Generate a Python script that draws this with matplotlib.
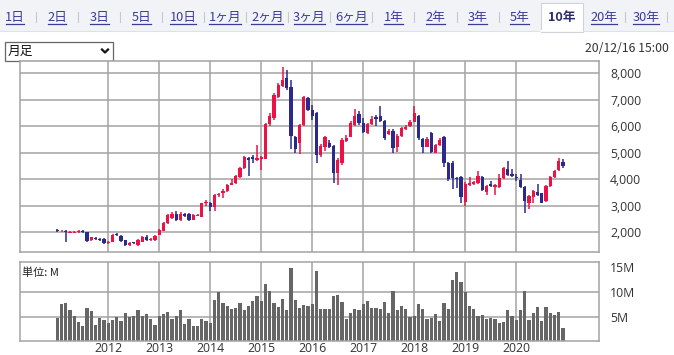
import numpy as np
import matplotlib
matplotlib.use("Agg")
import matplotlib.pyplot as plt
from matplotlib.patches import Rectangle

plt.rcParams['font.family'] = ['Noto Sans CJK JP', 'DejaVu Sans']

# --- data (monthly, Jan 2011 .. Dec 2020) ---
opens = [2100, 2040, 2060, 1990, 1990, 2020, 2050, 2000, 1710, 1800, 1750, 1750,
         1600, 1640, 1950, 1870, 1710, 1520, 1620, 1510, 1640, 1840, 1720, 1710,
         1900, 2060, 2340, 2530, 2700, 2460, 2690, 2680, 2480, 2630, 2590, 3090,
         3100, 2970, 3400, 3480, 3560, 3800, 3850, 4080, 4420, 4800, 4830, 4720,
         4780, 4770, 6080, 6300, 7120, 7520, 7810, 7470, 5590, 5360, 6050, 7060,
         6620, 6490, 4920, 5230, 5360, 5260, 4250, 4600, 5460, 5610, 6050, 6450,
         6110, 5750, 6090, 6340, 6390, 6210, 5710, 5840, 5230, 5640, 5890, 6030,
         6180, 6390, 5510, 5230, 5760, 5010, 5300, 5590, 4630, 4630, 4060, 4080,
         3160, 3770, 3820, 3870, 4100, 3510, 3820, 3720, 3700, 4040, 4390, 4190,
         4100, 3980, 3720, 3120, 3350, 3510, 3470, 3190, 3750, 4080, 4350, 4640]
closes = [2040, 2060, 2000, 2000, 2000, 2040, 2000, 1680, 1810, 1740, 1700, 1600,
          1620, 1910, 1880, 1670, 1520, 1600, 1580, 1710, 1840, 1710, 1740, 1870,
          2090, 2340, 2650, 2690, 2460, 2700, 2610, 2460, 2650, 2660, 3100, 3130,
          2970, 3410, 3440, 3560, 3800, 3870, 4130, 4410, 4830, 4740, 4760, 4820,
          4840, 6080, 6390, 7180, 7560, 7750, 7430, 5640, 5150, 6050, 7090, 6620,
          6370, 4920, 5260, 5600, 5230, 4250, 4730, 5480, 5570, 6110, 6390, 6110,
          5800, 6090, 6260, 6290, 6210, 5550, 5840, 5170, 5640, 5920, 5990, 6180,
          6490, 5550, 5230, 5520, 5040, 5300, 5490, 4600, 4000, 4040, 4000, 3350,
          3820, 3870, 3890, 4130, 3600, 3750, 3750, 3790, 4040, 4440, 4160, 4140,
          4060, 3720, 3190, 3370, 3560, 3410, 3120, 3750, 4080, 4310, 4690, 4520]
highs = [2140, 2090, 2080, 2040, 2040, 2070, 2070, 2010, 1840, 1820, 1770, 1770,
         1660, 1950, 1990, 1890, 1720, 1620, 1640, 1740, 1870, 1880, 1770, 1890,
         2120, 2370, 2690, 2780, 2800, 2760, 2730, 2720, 2700, 2700, 3120, 3220,
         3150, 3460, 3500, 3640, 3830, 4010, 4180, 4460, 4880, 4860, 4910, 5300,
         4890, 6120, 6520, 7250, 7620, 8230, 8130, 7750, 5650, 6100, 7140, 7120,
         6800, 6550, 5320, 5650, 5500, 5300, 4800, 5540, 5660, 6200, 6650, 6560,
         6300, 6130, 6400, 6430, 6750, 6250, 5880, 5880, 5700, 5980, 6050, 6230,
         6750, 6420, 5560, 5580, 5800, 5350, 5560, 5620, 4650, 4680, 4100, 4120,
         3880, 4090, 3950, 4300, 4120, 3790, 3950, 3820, 4200, 4480, 4680, 4400,
         4200, 4200, 3750, 3420, 3600, 3830, 3500, 3800, 4120, 4360, 4800, 4760]
lows = [2020, 2020, 1620, 1960, 1960, 1990, 1980, 1640, 1660, 1710, 1680, 1560,
        1570, 1620, 1860, 1640, 1490, 1500, 1550, 1490, 1620, 1690, 1690, 1690,
        1880, 2040, 2300, 2500, 2420, 2420, 2580, 2430, 2450, 2600, 2580, 3000,
        2800, 2800, 3350, 3280, 3530, 3780, 3820, 4050, 4380, 4140, 4620, 4700,
        4360, 4750, 6000, 6250, 7050, 7480, 7380, 5160, 5000, 4960, 6000, 6580,
        6250, 4620, 4860, 5080, 5180, 3850, 3800, 4550, 5420, 5580, 6000, 6050,
        5750, 5700, 6050, 6000, 6150, 5500, 5660, 5000, 5030, 5600, 5850, 5990,
        6150, 5500, 5000, 5200, 4990, 4980, 5260, 4450, 3950, 3650, 3670, 3100,
        3000, 3740, 3780, 3840, 3560, 3400, 3720, 3400, 3660, 4000, 4130, 4100,
        3950, 3690, 2730, 2880, 3100, 3380, 3090, 3160, 3720, 4040, 4300, 4440]
volumes = [4.9, 7.7, 7.9, 6.5, 5.3, 4.1, 3.3, 6.9, 6.3, 3.5, 4.9, 4.5,
           3.9, 4.5, 5.1, 4.3, 5.9, 5.1, 5.3, 6.5, 5.3, 5.7, 4.7, 3.5,
           5.3, 5.7, 6.1, 4.7, 5.3, 6.5, 3.7, 4.7, 3.3, 3.3, 4.7, 4.3,
           3.9, 8.5, 10.0, 7.9, 7.3, 6.7, 6.9, 7.9, 6.5, 7.3, 8.3, 9.3,
           8.3, 11.7, 10.3, 7.9, 7.1, 8.7, 6.5, 14.9, 8.5, 6.9, 7.5, 7.3,
           7.7, 14.3, 6.7, 6.7, 6.7, 9.3, 9.5, 8.1, 4.7, 5.9, 6.7, 6.5,
           7.7, 8.3, 6.9, 6.9, 6.7, 8.1, 5.9, 10.3, 6.5, 7.3, 6.7, 5.1,
           5.3, 7.7, 6.7, 4.7, 4.9, 5.7, 4.3, 7.9, 6.7, 12.5, 14.1, 12.1,
           10.0, 7.3, 6.7, 5.3, 5.5, 4.7, 4.9, 4.7, 3.9, 4.1, 6.5, 5.3,
           4.5, 6.5, 10.3, 4.5, 5.9, 7.1, 4.3, 7.1, 5.9, 5.5, 6.1, 2.9]

tabs = ["1日", "2日", "3日", "5日", "10日", "1ヶ月", "2ヶ月", "3ヶ月", "6ヶ月",
        "1年", "2年", "3年", "5年", "10年", "20年", "30年"]
selected_tab = "10年"
years = [2012, 2013, 2014, 2015, 2016, 2017, 2018, 2019, 2020]
price_ticks = [2000, 3000, 4000, 5000, 6000, 7000, 8000]
vol_ticks = [5, 10, 15]

W, H = 674, 355
RED = '#ea1346'
BLUE = '#2b2a8c'
GRID = '#a3a3a3'
TXT = '#333333'
LINK = '#3b3b9a'

x = 2011 + np.arange(len(opens)) / 12.0
o = np.array(opens); c = np.array(closes)
hi = np.array(highs); lo = np.array(lows)
up = c >= o
colors = np.where(up, RED, BLUE)


def px_axes(x0, y0, x1, y1):
    return fig.add_axes([x0 / W, 1 - y1 / H, (x1 - x0) / W, (y1 - y0) / H])


fig = plt.figure(figsize=(W / 100, H / 100), dpi=100)

# --- header (tabs, select box, date) drawn in pixel coords ---
bg = fig.add_axes([0, 0, 1, 1])
bg.set_xlim(0, W); bg.set_ylim(H, 0); bg.axis('off')
bg.add_patch(Rectangle((0, 0), W, 31, facecolor='#f1f3f7', edgecolor='none'))
bg.plot([0, W], [31, 31], color='#dde1e8', lw=0.8)
tab_w = 42.05
tab_texts = []
for k, t in enumerate(tabs):
    cx = 15 + k * tab_w
    if t == selected_tab:
        bg.add_patch(Rectangle((cx - 21, 3), 42, 29, facecolor='white',
                               edgecolor='#cfd4dc', lw=0.8))
        bg.plot([cx - 20.5, cx + 20.5], [31, 31], color='white', lw=1.2)
        bg.text(cx, 17, t, ha='center', va='center', fontsize=9.2,
                fontweight='bold', color='#2b2b6e')
    else:
        tt = bg.text(cx, 17, t, ha='center', va='center', fontsize=9.2, color=LINK)
        tab_texts.append(tt)
    if k < len(tabs) - 1 and t != selected_tab and tabs[k + 1] != selected_tab:
        bg.plot([cx + 21, cx + 21], [12, 22], color='#c5c9d0', lw=0.8)
bg.plot([W - 7, W - 7], [12, 22], color='#c5c9d0', lw=0.8)

bg.add_patch(Rectangle((4.5, 41.5), 108, 19, facecolor='white', edgecolor='#666666', lw=0.9))
bg.text(8, 51, "月足", ha='left', va='center', fontsize=9.2, color='#111111')
bg.plot([102, 105, 108], [49.5, 52.5, 49.5], color='#111111', lw=1.6)
bg.text(669, 48.5, "20/12/16 15:00", ha='right', va='center', fontsize=8.8, color=TXT)

# --- price panel ---
ax = px_axes(20, 61, 599, 251.7)
xlim = (2011 - 8.78 / 12, 2011 + 127.46 / 12)
ax.set_xlim(*xlim)
ax.set_ylim(1268, 8464)
for yv in price_ticks:
    ax.axhline(yv, color=GRID, lw=1.1, zorder=0)
for yr in years:
    ax.axvline(yr, color=GRID, lw=1.1, zorder=0)
ax.vlines(x, lo, hi, colors=colors, lw=1.1, zorder=2)
body_h = np.maximum(np.abs(c - o), 25)
body_b = np.minimum(o, c) - (body_h - np.abs(c - o)) / 2
ax.bar(x, body_h, bottom=body_b, width=0.74 / 12, color=colors, lw=0, zorder=3)
ax.set_xticks([])
ax.yaxis.tick_right()
ax.set_yticks(price_ticks)
ax.set_yticklabels([f"{v:,}" for v in price_ticks], fontsize=8.8, color=TXT,
                   family=['Open Sans', 'DejaVu Sans'])
ax.tick_params(axis='y', length=0, pad=8)
for s in ax.spines.values():
    s.set_color(GRID); s.set_linewidth(1.1)

# --- volume panel ---
av = px_axes(20, 262.3, 599, 341)
av.set_xlim(*xlim)
av.set_ylim(0.25, 16)
for yv in vol_ticks[:2]:
    av.axhline(yv, color=GRID, lw=1.1, zorder=0)
for yr in years:
    av.axvline(yr, color=GRID, lw=1.1, zorder=0)
av.bar(x, volumes, width=0.74 / 12, color='#666666', lw=0, zorder=2)
av.yaxis.tick_right()
av.set_yticks(vol_ticks)
av.set_yticklabels([f"{v}M" for v in vol_ticks], fontsize=8.8, color=TXT,
                   family=['Open Sans', 'DejaVu Sans'])
av.set_xticks(years)
av.set_xticklabels([str(y) for y in years], fontsize=8.8, color=TXT,
                   family=['Open Sans', 'DejaVu Sans'])
av.tick_params(length=0)
av.tick_params(axis='y', pad=8)
av.tick_params(axis='x', pad=1)
for s in av.spines.values():
    s.set_color(GRID); s.set_linewidth(1.1)
av.text(0.004, 0.93, "単位: M", transform=av.transAxes, ha='left', va='top',
        fontsize=8, color='#222222', zorder=5)

# underline the tab links
fig.canvas.draw()
inv = bg.transData.inverted()
for tt in tab_texts:
    bb = tt.get_window_extent()
    (xa, ya), (xb, yb) = inv.transform([[bb.x0, bb.y0], [bb.x1, bb.y1]])
    bg.plot([xa + 0.5, xb - 0.5], [23.8, 23.8], color=LINK, lw=0.9)

fig.savefig("out.png", dpi=100)
